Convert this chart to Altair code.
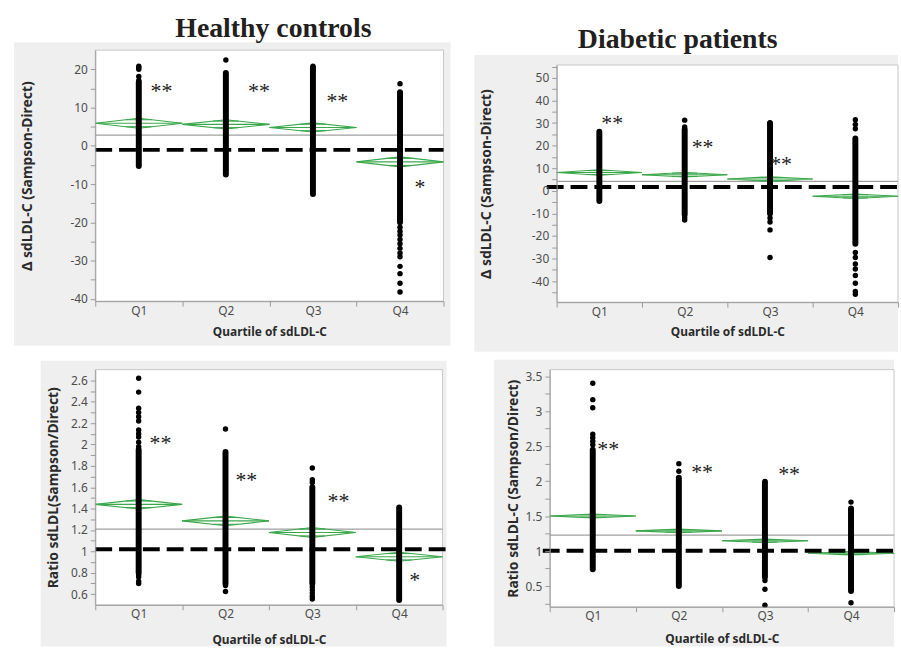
import math
import altair as alt
import pandas as pd

QUARTILES = ["Q1", "Q2", "Q3", "Q4"]
X_TICKS = [0, 0.5, 1, 1.5, 2, 2.5, 3, 3.5, 4]
GREEN = "#3aa84a"

# ---------------- Panel A: healthy controls, difference ----------------
A_MEAN = [5.9, 5.6, 4.8, -4.2]
A_CI = [1.3, 1.2, 1.2, 1.3]
A_GRAND = 2.8
A_REF = -1.06
A_DENSE_LO = [-5.3, -7.5, -12.6, -20.0]
A_DENSE_HI = [16.6, 19.0, 20.4, 14.0]
A_OUT = [
    [20.8, 20.4, 20.0, 18.1, 17.1],
    [22.4],
    [20.8],
    [16.2, -21.3, -22.3, -23.3, -24.5, -25.6, -26.8, -28.0, -29.0, -31.5, -33.4, -35.9, -38.2],
]
A_STARS = ["**", "**", "**", "*"]
A_STAR_X = [0.76, 1.88, 2.78, 3.73]
A_STAR_Y = [15.0, 15.0, 12.4, -9.9]
A_YMAJOR = [-40, -30, -20, -10, 0, 10, 20]
A_YMINOR = [-35, -25, -15, -5, 5, 15]
A_YDOMAIN = [-40.6, 25.0]
A_YTITLE = "Δ sdLDL-C  (Sampson-Direct)"
A_XTITLE = "Quartile of sdLDL-C"
A_TITLE = "Healthy controls"

# ---------------- Panel B: diabetic patients, difference ----------------
B_MEAN = [8.1, 7.1, 5.2, -2.4]
B_CI = [1.2, 1.0, 1.0, 1.0]
B_GRAND = 4.2
B_REF = 1.7
B_DENSE_LO = [-4.5, -10.5, -10.0, -23.4]
B_DENSE_HI = [26.2, 27.2, 29.8, 23.2]
B_OUT = [
    [],
    [31.3, 28.3, -11.8, -12.9],
    [30.2, -12.0, -13.8, -17.3, -29.5],
    [31.5, 29.4, 27.5, -27.3, -29.5, -32.4, -34.6, -37.5, -40.9, -44.6, -45.8],
]
B_STARS = ["**", "**", "**"]
B_STAR_X = [0.65, 1.71, 2.63]
B_STAR_Y = [31.4, 20.9, 13.0]
B_YMAJOR = [-40, -30, -20, -10, 0, 10, 20, 30, 40, 50]
B_YMINOR = [-45, -35, -25, -15, -5, 5, 15, 25, 35, 45, 55]
B_YDOMAIN = [-49.3, 55.7]
B_YTITLE = "Δ sdLDL-C   (Sampson-Direct)"
B_XTITLE = "Quartile of  sdLDL-C"
B_TITLE = "Diabetic patients"

# ---------------- Panel C: healthy controls, ratio ----------------
C_MEAN = [1.44, 1.285, 1.177, 0.95]
C_CI = [0.044, 0.045, 0.046, 0.042]
C_GRAND = 1.208
C_REF = 1.02
C_DENSE_LO = [0.80, 0.70, 0.70, 0.545]
C_DENSE_HI = [1.95, 1.93, 1.60, 1.41]
C_OUT = [
    [2.62, 2.49, 2.34, 2.30, 2.26, 2.22, 2.135, 2.10, 2.07, 2.02, 1.98, 0.78, 0.76, 0.72, 0.70],
    [2.145, 0.68, 0.625],
    [1.78, 1.67, 1.645, 0.67, 0.64, 0.61, 0.58, 0.555],
    [],
]
C_STARS = ["**", "**", "**", "*"]
C_STAR_X = [0.75, 1.74, 2.80, 3.68]
C_STAR_Y = [2.04, 1.695, 1.502, 0.758]
C_YMAJOR = [0.6, 0.8, 1, 1.2, 1.4, 1.6, 1.8, 2, 2.2, 2.4, 2.6]
C_YMINOR = [0.7, 0.9, 1.1, 1.3, 1.5, 1.7, 1.9, 2.1, 2.3, 2.5]
C_YDOMAIN = [0.50, 2.70]
C_YTITLE = "Ratio sdLDL(Sampson/Direct)"
C_XTITLE = "Quartile of sdLDL-C"

# ---------------- Panel D: diabetic patients, ratio ----------------
D_MEAN = [1.502, 1.289, 1.147, 0.968]
D_CI = [0.028, 0.026, 0.025, 0.025]
D_GRAND = 1.228
D_REF = 1.006
D_DENSE_LO = [0.74, 0.50, 0.63, 0.43]
D_DENSE_HI = [2.45, 2.05, 1.99, 1.61]
D_OUT = [
    [3.40, 3.165, 3.05, 2.67, 2.62, 2.57, 2.52],
    [2.25, 2.14],
    [0.58, 0.453, 0.226],
    [1.70, 0.26],
]
D_STARS = ["**", "**", "**"]
D_STAR_X = [0.68, 1.77, 2.78]
D_STAR_Y = [2.508, 2.177, 2.149]
D_YMAJOR = [0.5, 1, 1.5, 2, 2.5, 3, 3.5]
D_YMINOR = [0.25, 0.75, 1.25, 1.75, 2.25, 2.75, 3.25]
D_YDOMAIN = [0.203, 3.594]
D_YTITLE = "Ratio sdLDL-C (Sampson/Direct)"
D_XTITLE = "Quartile of  sdLDL-C"


def panel_data(mean, ci, grand, ref, lo, hi, out, stars, sx, sy, ymaj, ymin, ydom, ytitle, xtitle, title=None):
    return dict(mean=mean, ci=ci, grand=grand, ref=ref, lo=lo, hi=hi, out=out, stars=stars,
                sx=sx, sy=sy, ymaj=ymaj, ymin=ymin, ydom=ydom, ytitle=ytitle, xtitle=xtitle, title=title)


PANELS = [
    panel_data(A_MEAN, A_CI, A_GRAND, A_REF, A_DENSE_LO, A_DENSE_HI, A_OUT, A_STARS, A_STAR_X, A_STAR_Y,
               A_YMAJOR, A_YMINOR, A_YDOMAIN, A_YTITLE, A_XTITLE, A_TITLE),
    panel_data(B_MEAN, B_CI, B_GRAND, B_REF, B_DENSE_LO, B_DENSE_HI, B_OUT, B_STARS, B_STAR_X, B_STAR_Y,
               B_YMAJOR, B_YMINOR, B_YDOMAIN, B_YTITLE, B_XTITLE, B_TITLE),
    panel_data(C_MEAN, C_CI, C_GRAND, C_REF, C_DENSE_LO, C_DENSE_HI, C_OUT, C_STARS, C_STAR_X, C_STAR_Y,
               C_YMAJOR, C_YMINOR, C_YDOMAIN, C_YTITLE, C_XTITLE),
    panel_data(D_MEAN, D_CI, D_GRAND, D_REF, D_DENSE_LO, D_DENSE_HI, D_OUT, D_STARS, D_STAR_X, D_STAR_Y,
               D_YMAJOR, D_YMINOR, D_YDOMAIN, D_YTITLE, D_XTITLE),
]

# layout geometry (pixels, relative to each panel group's origin);
# "top" = offset of the plot area's top inside the group
GEOM = [
    dict(W=351, H=253, top=0, frame=(-92, 370, -48, 308), box=(-82, 358, -8, 298), title=(179.5, -13),
         ref=(0, 351), ypad=36, xpad=11),
    dict(W=344, H=254, top=15, frame=(-95, 344, -48, 308), box=(-83, 344, 5, 304), title=(122, -2),
         ref=(-10, 344), ypad=38, xpad=10),
    dict(W=350, H=237, top=0, frame=(-96, 366, -14, 279), box=(-55, 354, -9, 279), title=None,
         ref=(0, 354), ypad=10, xpad=15),
    dict(W=347, H=239, top=0, frame=(-92, 347, -14, 279), box=(-56, 347, -10, 279), title=None,
         ref=(-7, 347), ypad=5, xpad=12),
]

Q_ARRAY = "[" + ",".join("'" + q + "'" for q in QUARTILES) + "]"


def make_panel(d, g):
    W, H, T = g["W"], g["H"], g["top"]
    xs = alt.Scale(domain=[0, 4], nice=False, zero=False)
    if T:
        ys = alt.Scale(domain=d["ydom"], nice=False, zero=False, range=[H, T])
    else:
        ys = alt.Scale(domain=d["ydom"], nice=False, zero=False)
    xaxis = alt.Axis(
        values=X_TICKS,
        labelExpr="datum.value % 1 === 0.5 ? " + Q_ARRAY + "[floor(datum.value)] : ''",
        tickColor={"condition": {"test": "datum.value % 1 === 0", "value": "#9a9a9a"}, "value": "transparent"},
        tickSize=5, labelPadding=-1, title=d["xtitle"], titlePadding=g["xpad"],
        labelOverlap=False, labelFlush=False, grid=False, zindex=1,
    )
    maj = "[" + ",".join(repr(v) for v in d["ymaj"]) + "]"
    yaxis = alt.Axis(
        values=sorted(d["ymaj"] + d["ymin"]),
        labelExpr="indexof(" + maj + ", datum.value) >= 0 ? '' + datum.value : ''",
        tickSize=5, labelPadding=3, title=d["ytitle"], titlePadding=g["ypad"], titleFontSize=14,
        labelOverlap=False, labelFlush=False, grid=False, zindex=1,
    )

    def xe(f="x"):
        return alt.X(f + ":Q", scale=xs, axis=xaxis)

    def ye(f="y"):
        return alt.Y(f + ":Q", scale=ys, axis=yaxis)

    one = pd.DataFrame({"k": [0]})
    fx0, fx1, fy0, fy1 = g["frame"]
    bx0, bx1, by0, by1 = g["box"]
    frame = alt.Chart(one).mark_rect(fill="white").encode(
        x=alt.value(fx0), x2=alt.value(fx1), y=alt.value(fy0), y2=alt.value(fy1))
    box = alt.Chart(one).mark_rect(fill="#efefef").encode(
        x=alt.value(bx0), x2=alt.value(bx1), y=alt.value(by0), y2=alt.value(by1))
    plot = alt.Chart(one).mark_rect(fill="white", stroke="#c8c8c8", strokeWidth=1).encode(
        x=alt.value(0), x2=alt.value(W), y=alt.value(T), y2=alt.value(H))

    grand = alt.Chart(pd.DataFrame({"y": [d["grand"]]})).mark_rule(
        color="#a0a0a0", strokeWidth=1.2).encode(y=ye(), x=alt.value(0), x2=alt.value(W))

    drows, srows, dense, pts, stars = [], [], [], [], []
    k = 1 / math.sqrt(2)
    for i, q in enumerate(QUARTILES):
        m, h = d["mean"][i], d["ci"][i]
        for o, (xx, yy) in enumerate([(i, m), (i + 0.5, m + h), (i + 1, m), (i + 0.5, m - h), (i, m)]):
            drows.append({"x": xx, "y": yy, "g": q, "o": o})
        srows.append({"x": i, "x2": i + 1, "y": m})
        half = 0.5 * (1 - k)
        srows.append({"x": i + 0.5 - half, "x2": i + 0.5 + half, "y": m + h * k})
        srows.append({"x": i + 0.5 - half, "x2": i + 0.5 + half, "y": m - h * k})
        dense.append({"x": i + 0.5, "y": d["lo"][i], "y2": d["hi"][i]})
        for v in d["out"][i]:
            pts.append({"x": i + 0.5, "y": v})
    for s, sx, sy in zip(d["stars"], d["sx"], d["sy"]):
        stars.append({"x": sx, "y": sy, "t": s})

    diam = alt.Chart(pd.DataFrame(drows)).mark_line(color=GREEN, strokeWidth=1.1).encode(
        x=xe(), y=ye(), detail="g:N", order="o:Q")
    segs = alt.Chart(pd.DataFrame(srows)).mark_rule(color=GREEN, strokeWidth=1.1).encode(
        x=xe(), x2="x2:Q", y=ye())
    strip = alt.Chart(pd.DataFrame(dense)).mark_rule(
        color="black", strokeWidth=6, strokeCap="round").encode(x=xe(), y=ye(), y2="y2:Q")
    dots = alt.Chart(pd.DataFrame(pts)).mark_circle(color="black", size=30, opacity=1).encode(
        x=xe(), y=ye())
    r0, r1 = g["ref"]
    ref = alt.Chart(pd.DataFrame({"y": [d["ref"]]})).mark_rule(
        color="black", strokeWidth=4, strokeDash=[17, 7]).encode(
        y=ye(), x=alt.value(r0), x2=alt.value(r1))
    star = alt.Chart(pd.DataFrame(stars)).mark_text(
        font="Liberation Serif", fontSize=22, color="#222222", align="center",
        baseline="alphabetic", dy=10).encode(x=xe(), y=ye(), text="t:N")

    layers = [frame, box, plot, grand, diam, segs, strip, dots, ref, star]
    if d["title"] and g["title"]:
        tx, ty = g["title"]
        layers.append(alt.Chart(one).mark_text(
            text=d["title"], font="Liberation Serif", fontSize=28, fontWeight="bold",
            color="#231f20", align="center", baseline="alphabetic").encode(
            x=alt.value(tx), y=alt.value(ty)))
    return alt.layer(*layers).properties(width=W, height=H)


p = [make_panel(d, g) for d, g in zip(PANELS, GEOM)]

chart = alt.vconcat(
    alt.hconcat(p[0], p[1], spacing=0),
    alt.hconcat(p[2], p[3], spacing=0),
    spacing=0,
).properties(padding=0).configure_view(strokeWidth=0).configure_axis(
    labelFont="Noto Sans", labelFontSize=12, labelColor="#4d4d4d",
    titleFont="Noto Sans", titleFontSize=12, titleFontWeight="bold", titleColor="#2b2b2b",
    domainColor="#9a9a9a", tickColor="#9a9a9a",
)

chart.save("out.html", embed_options={"renderer": "svg", "actions": False})
